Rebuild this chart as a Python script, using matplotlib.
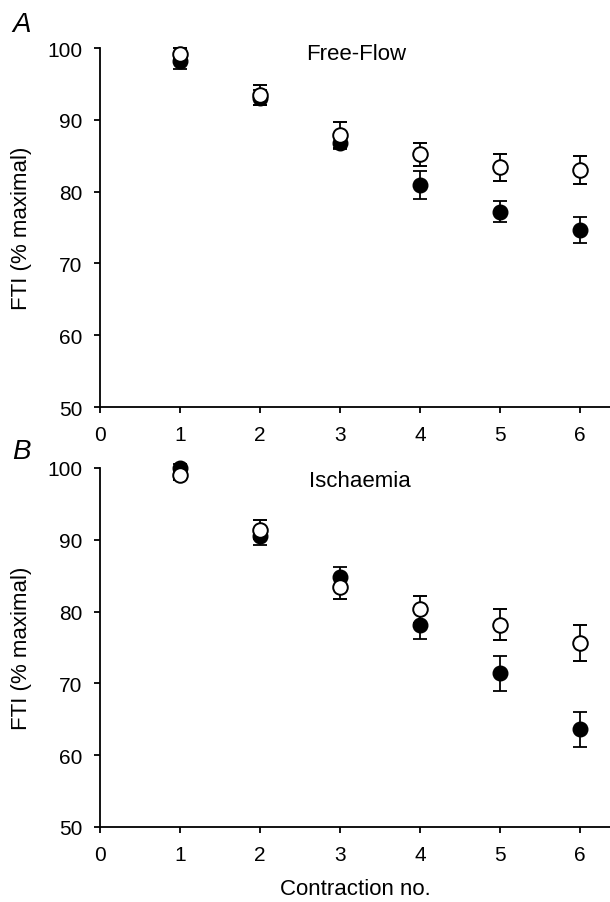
import matplotlib
matplotlib.use("Agg")
import matplotlib.pyplot as plt

plt.rcParams['font.family'] = ['Liberation Sans', 'DejaVu Sans']

contraction = [1, 2, 3, 4, 5, 6]

# Panel A: Free-Flow
a_filled = [98.2, 93.1, 86.8, 80.9, 77.2, 74.6]
a_filled_err = [1.1, 1.0, 0.9, 2.0, 1.5, 1.8]
a_open = [99.2, 93.5, 87.9, 85.2, 83.4, 83.0]
a_open_err = [0.8, 1.4, 1.8, 1.6, 1.9, 2.0]

# Panel B: Ischaemia
b_filled = [100.0, 90.5, 84.8, 78.1, 71.4, 63.6]
b_filled_err = [0.6, 1.2, 1.4, 1.9, 2.4, 2.4]
b_open = [99.0, 91.4, 83.4, 80.3, 78.2, 75.6]
b_open_err = [0.7, 1.3, 1.6, 1.9, 2.2, 2.5]

xticks = [0, 1, 2, 3, 4, 5, 6]
yticks = [50, 60, 70, 80, 90, 100]

fig = plt.figure(figsize=(6.10, 9.03), dpi=100)
axA = fig.add_axes([100/610, 1-408/903, 510/610, 359/903])
axB = fig.add_axes([100/610, 1-828/903, 510/610, 359/903])


def draw(ax, fy, fe, oy, oe, title, tx, ty):
    ax.errorbar(contraction, fy, yerr=fe, fmt='o', color='black', mfc='black',
                mec='black', ms=10.5, capsize=5, elinewidth=1.3, capthick=1.3,
                clip_on=False, zorder=3)
    ax.errorbar(contraction, oy, yerr=oe, fmt='o', color='black', mfc='white',
                mec='black', mew=1.4, ms=10.5, capsize=5, elinewidth=1.3,
                capthick=1.3, clip_on=False, zorder=4)
    ax.set_xlim(0, 6.375)
    ax.set_ylim(50, 100)
    ax.set_xticks(xticks)
    ax.set_yticks(yticks)
    ax.spines['top'].set_visible(False)
    ax.spines['right'].set_visible(False)
    ax.spines['left'].set_linewidth(1.3)
    ax.spines['bottom'].set_linewidth(1.3)
    ax.tick_params(axis='both', direction='out', length=4, width=1.3, labelsize=15)
    ax.tick_params(axis='y', pad=8.5)
    ax.tick_params(axis='x', pad=9)
    ax.set_ylabel('FTI (% maximal)', fontsize=16)
    ax.yaxis.set_label_coords(-0.133, 0.5)
    ax.text(tx, ty, title, fontsize=16, ha='left', va='center')


draw(axA, a_filled, a_filled_err, a_open, a_open_err, 'Free-Flow', 2.575, 99.2)
draw(axB, b_filled, b_filled_err, b_open, b_open_err, 'Ischaemia', 2.61, 98.2)
axB.set_xlabel('Contraction no.', fontsize=16, labelpad=10)

fig.text(12/610, 1-25/903, 'A', fontsize=20, style='italic', va='center', ha='left')
fig.text(12/610, 1-452/903, 'B', fontsize=20, style='italic', va='center', ha='left')

fig.savefig('out.png', dpi=100)
